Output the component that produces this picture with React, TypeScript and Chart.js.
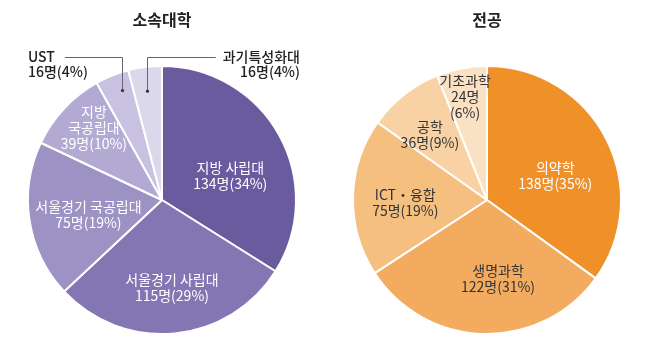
import React, { useEffect, useRef } from "react";
import { Chart, registerables } from "chart.js";

Chart.register(...registerables);

// ---- Data: 소속대학 ----
const schoolTitle = "소속대학";
const schoolNames = [["지방 사립대"], ["서울경기 사립대"], ["서울경기 국공립대"], ["지방", "국공립대"], ["UST"], ["과기특성화대"]];
const schoolValues = [134, 115, 75, 39, 16, 16];
const schoolPercents = [34, 29, 19, 10, 4, 4];
const schoolColors = ["#6a5b9f", "#8476b2", "#9d92c4", "#b3aad3", "#c8c1e1", "#dcd8ec"];
const schoolTextColors = ["#ffffff", "#ffffff", "#ffffff", "#ffffff", "#222222", "#222222"];
// placement: [angle offset (deg), radius fraction, mode]
const schoolPlacement: [number, number, string][] = [
  [9.6, 0.54, "in"],
  [-1, 0.66, "in"],
  [-2.5, 0.56, "in"],
  [3.6, 0.74, "in"],
  [1.7, 0.87, "outLeft"],
  [-0.7, 0.82, "outRight"],
];

// ---- Data: 전공 ----
const majorTitle = "전공";
const majorNames = [["의약학"], ["생명과학"], ["ICT・융합"], ["공학"], ["기초과학"]];
const majorValues = [138, 122, 75, 36, 24];
const majorPercents = [35, 31, 19, 9, 6];
const majorColors = ["#ef9029", "#f2ab5f", "#f5bf80", "#f8d2a5", "#fae1c4"];
const majorTextColors = ["#ffffff", "#333333", "#333333", "#333333", "#333333"];
const majorSplitValue = [false, false, false, false, true];
const majorPlacement: [number, number, string][] = [
  [7.7, 0.54, "in"],
  [-9.4, 0.59, "in"],
  [-3, 0.61, "in"],
  [-2.7, 0.65, "in"],
  [-1, 0.79, "in"],
];

const FONT = '"Noto Sans CJK KR", "Noto Sans", sans-serif';

type PieProps = {
  left: number;
  title: string;
  names: string[][];
  values: number[];
  percents: number[];
  colors: string[];
  textColors: string[];
  placement: [number, number, string][];
  splitValue?: boolean[];
};

function Pie(props: PieProps) {
  const ref = useRef<HTMLCanvasElement | null>(null);
  useEffect(() => {
    const canvas = ref.current!;
    const labelPlugin = {
      id: "pieLabels",
      afterDraw(chart: any) {
        const ctx = chart.ctx as CanvasRenderingContext2D;
        const area = chart.chartArea;
        const meta = chart.getDatasetMeta(0);
        ctx.save();
        // title
        const cx0 = (area.left + area.right) / 2;
        ctx.font = `bold 16px ${FONT}`;
        ctx.fillStyle = "#222222";
        ctx.textAlign = "center";
        ctx.textBaseline = "middle";
        ctx.fillText(props.title, cx0, 20);

        const lh = 16;
        meta.data.forEach((arc: any, i: number) => {
          const p = arc.getProps(["x", "y", "startAngle", "endAngle", "outerRadius"], true);
          const [da, frac, mode] = props.placement[i];
          const mid = (p.startAngle + p.endAngle) / 2 + (da * Math.PI) / 180;
          const ax = p.x + Math.cos(mid) * p.outerRadius * frac;
          const ay = p.y + Math.sin(mid) * p.outerRadius * frac;
          const valueText = `${props.values[i]}명`;
          const pctText = `(${props.percents[i]}%)`;
          const lines = [...props.names[i]];
          if (props.splitValue && props.splitValue[i]) {
            lines.push(valueText, pctText);
          } else {
            lines.push(valueText + pctText);
          }
          ctx.fillStyle = props.textColors[i];
          if (mode === "in") {
            ctx.font = `14px ${FONT}`;
            ctx.textAlign = "center";
            const y0 = ay - ((lines.length - 1) * lh) / 2;
            lines.forEach((t, k) => ctx.fillText(t, ax, y0 + k * lh));
          } else {
            ctx.font = `500 14px ${FONT}`;
            const ty = area.top - 8;
            ctx.strokeStyle = "#666666";
            ctx.lineWidth = 1;
            let x1: number;
            if (mode === "outLeft") {
              const tx = area.left + 1;
              ctx.textAlign = "left";
              lines.forEach((t, k) => ctx.fillText(t, tx, ty + k * 15));
              x1 = tx + ctx.measureText(lines[0]).width + 10;
            } else {
              const tx = area.right + 3;
              ctx.textAlign = "right";
              lines.forEach((t, k) => ctx.fillText(t, tx, ty + k * 15));
              x1 = tx - ctx.measureText(lines[0]).width - 7;
            }
            const lx = Math.round(ax) + 0.5;
            ctx.beginPath();
            ctx.moveTo(x1, Math.round(ty) + 0.5);
            ctx.lineTo(lx, Math.round(ty) + 0.5);
            ctx.lineTo(lx, ay);
            ctx.stroke();
            ctx.fillStyle = "#333333";
            ctx.beginPath();
            ctx.arc(lx, ay, 1.6, 0, Math.PI * 2);
            ctx.fill();
          }
        });
        ctx.restore();
      },
    };
    const chart = new Chart(canvas, {
      type: "pie",
      data: {
        labels: props.names.map((n) => n.join(" ")),
        datasets: [
          {
            data: props.values,
            backgroundColor: props.colors,
            borderColor: "#ffffff",
            borderWidth: 2,
          },
        ],
      },
      options: {
        responsive: false,
        animation: false,
        devicePixelRatio: 1,
        layout: { padding: { left: 27, right: 28, top: 65, bottom: 12 } },
        plugins: {
          legend: { display: false },
          tooltip: { enabled: false },
          title: { display: false },
        },
      },
      plugins: [labelPlugin],
    });
    return () => chart.destroy();
  }, []);
  return (
    <canvas
      ref={ref}
      width={325}
      height={347}
      style={{ position: "absolute", left: props.left, top: 0, width: 325, height: 347 }}
    />
  );
}

export default function App() {
  return (
    <div style={{ position: "absolute", left: 0, top: 0, width: 650, height: 347, background: "#ffffff" }}>
      <Pie
        left={0}
        title={schoolTitle}
        names={schoolNames}
        values={schoolValues}
        percents={schoolPercents}
        colors={schoolColors}
        textColors={schoolTextColors}
        placement={schoolPlacement}
      />
      <Pie
        left={325}
        title={majorTitle}
        names={majorNames}
        values={majorValues}
        percents={majorPercents}
        colors={majorColors}
        textColors={majorTextColors}
        placement={majorPlacement}
        splitValue={majorSplitValue}
      />
    </div>
  );
}
